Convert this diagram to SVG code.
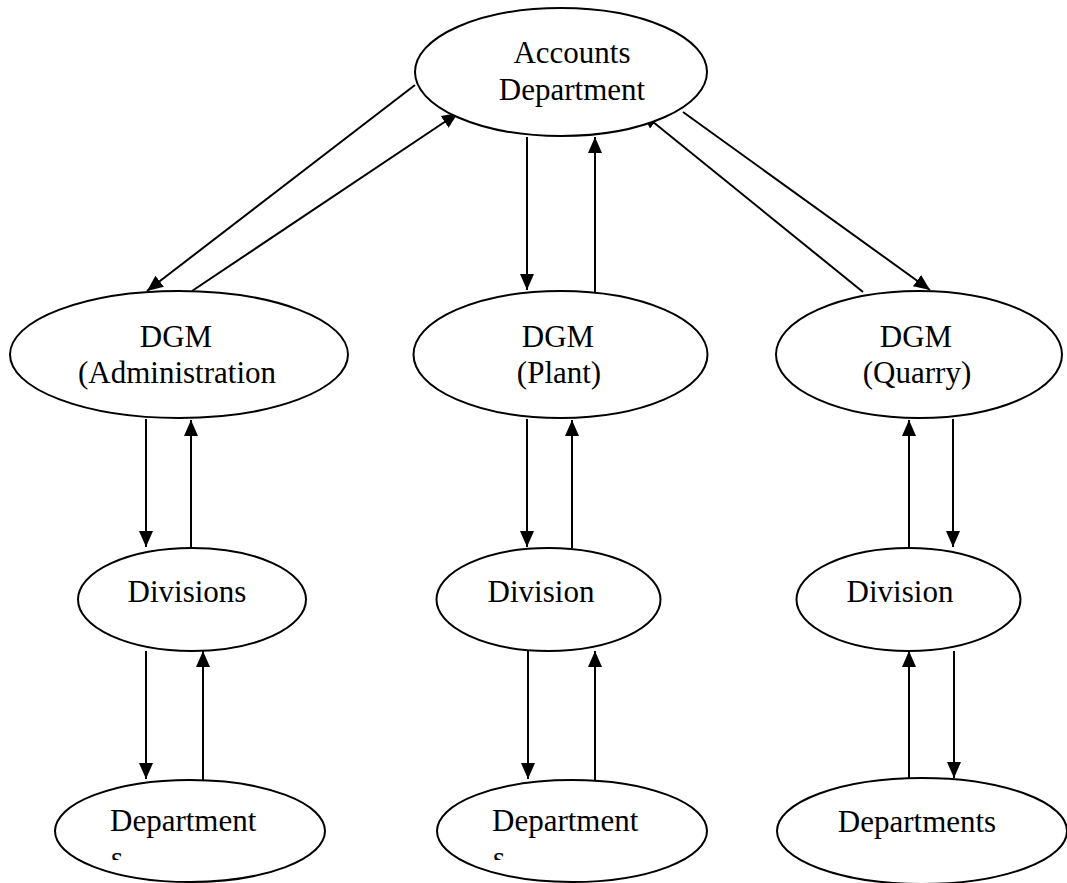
<svg xmlns="http://www.w3.org/2000/svg" width="1067" height="883" viewBox="0 0 1067 883">
  <style>
    .node ellipse { fill: #ffffff; stroke: #000000; stroke-width: 2; }
    .node text { font-family: "Liberation Serif", "Times New Roman", Times, "DejaVu Serif", "Noto Serif", serif; font-size: 31px; fill: #000000; }
    .mid { text-anchor: middle; }
    #connectors line { stroke: #000000; stroke-width: 2; fill: none; marker-end: url(#arrow); }
  </style>
  <defs>
    <marker id="arrow" markerUnits="userSpaceOnUse" markerWidth="18" markerHeight="16" refX="16" refY="8" orient="auto">
      <path d="M0,1 L16,8 L0,15 Z" fill="#000000"/>
    </marker>
    <!-- text frames cut off the overflowing last line -->
    <clipPath id="clipDeptAdmin"><rect x="60" y="790" width="260" height="70"/></clipPath>
    <clipPath id="clipDeptPlant"><rect x="440" y="790" width="260" height="70"/></clipPath>
  </defs>
  <rect width="1067" height="883" fill="#ffffff"/>

  <g id="connectors">
    <!-- Accounts <-> DGM (Administration) -->
    <line x1="415" y1="85" x2="147" y2="291"/>
    <line x1="192" y1="291" x2="458" y2="113"/>
    <!-- Accounts <-> DGM (Plant) -->
    <line x1="527" y1="137" x2="527" y2="290"/>
    <line x1="595" y1="292" x2="595" y2="137"/>
    <!-- Accounts <-> DGM (Quarry) -->
    <line x1="863" y1="292" x2="642" y2="113"/>
    <line x1="683" y1="112" x2="930" y2="290"/>
    <!-- DGM <-> Division -->
    <line x1="146" y1="419" x2="146" y2="547"/>
    <line x1="191" y1="548" x2="191" y2="420"/>
    <line x1="527" y1="419" x2="527" y2="547"/>
    <line x1="572" y1="548" x2="572" y2="420"/>
    <line x1="909" y1="548" x2="909" y2="420"/>
    <line x1="953" y1="419" x2="953" y2="547"/>
    <!-- Division <-> Departments -->
    <line x1="146" y1="651" x2="146" y2="779"/>
    <line x1="203" y1="780" x2="203" y2="651"/>
    <line x1="528" y1="651" x2="528" y2="779"/>
    <line x1="595" y1="780" x2="595" y2="651"/>
    <line x1="909" y1="779" x2="909" y2="651"/>
    <line x1="954" y1="651" x2="954" y2="778"/>
  </g>

  <g id="accounts" class="node">
    <ellipse cx="561" cy="72" rx="146" ry="64"/>
    <text class="mid" x="572" y="63">Accounts</text>
    <text class="mid" x="572" y="100">Department</text>
  </g>

  <g id="dgm-admin" class="node">
    <ellipse cx="179" cy="354.5" rx="169" ry="63.5"/>
    <text class="mid" x="176" y="347">DGM</text>
    <text class="mid" x="177" y="383">(Administration</text>
  </g>
  <g id="dgm-plant" class="node">
    <ellipse cx="560.5" cy="354.5" rx="147" ry="63.5"/>
    <text class="mid" x="558" y="347">DGM</text>
    <text class="mid" x="559" y="383">(Plant)</text>
  </g>
  <g id="dgm-quarry" class="node">
    <ellipse cx="919" cy="354.5" rx="143" ry="63.5"/>
    <text class="mid" x="916" y="347">DGM</text>
    <text class="mid" x="917" y="383">(Quarry)</text>
  </g>

  <g id="div-admin" class="node">
    <ellipse cx="192" cy="599.5" rx="114" ry="51.5"/>
    <text class="mid" x="187" y="602">Divisions</text>
  </g>
  <g id="div-plant" class="node">
    <ellipse cx="548.5" cy="599.5" rx="112" ry="51.5"/>
    <text class="mid" x="541" y="602">Division</text>
  </g>
  <g id="div-quarry" class="node">
    <ellipse cx="908.5" cy="599.5" rx="112" ry="51.5"/>
    <text class="mid" x="900" y="602">Division</text>
  </g>

  <g id="dept-admin" class="node">
    <ellipse cx="190" cy="831" rx="135" ry="51"/>
    <g clip-path="url(#clipDeptAdmin)">
      <text x="110" y="831">Department</text>
      <text x="111" y="868">s</text>
    </g>
  </g>
  <g id="dept-plant" class="node">
    <ellipse cx="572" cy="831" rx="135" ry="51"/>
    <g clip-path="url(#clipDeptPlant)">
      <text x="492" y="831">Department</text>
      <text x="493" y="868">s</text>
    </g>
  </g>
  <g id="dept-quarry" class="node">
    <ellipse cx="922" cy="831" rx="145" ry="53"/>
    <text class="mid" x="917" y="832">Departments</text>
  </g>
</svg>
